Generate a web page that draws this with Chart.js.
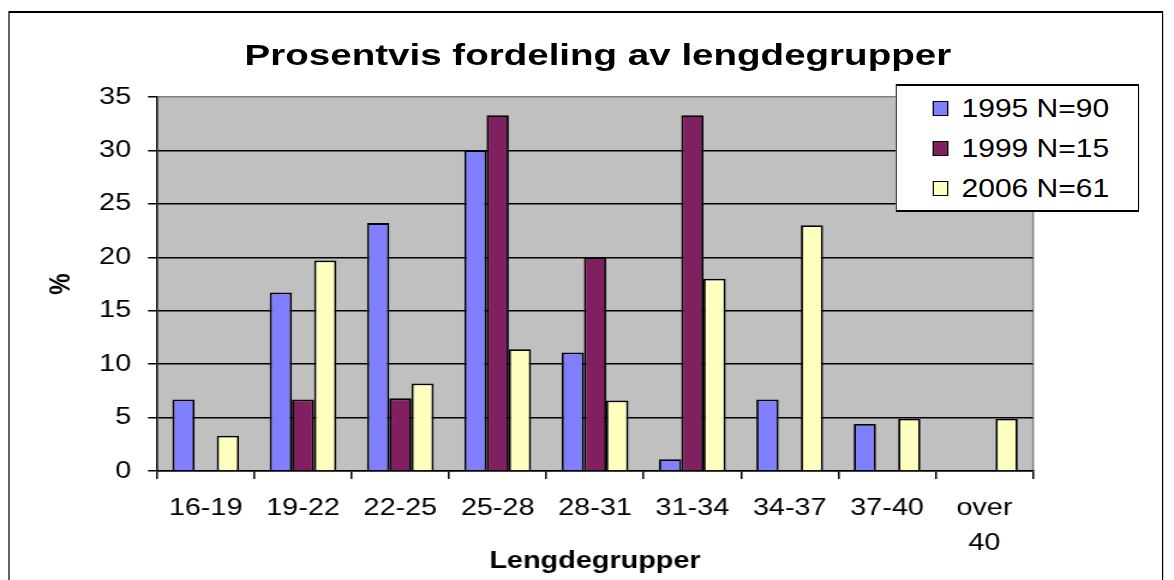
<!DOCTYPE html>
<html>
<head>
<meta charset="utf-8">
<script src="https://cdn.jsdelivr.net/npm/chart.js@4"></script>
<style>
body{margin:0;background:#fff;font-family:"Liberation Sans",Arial,sans-serif}
#wrap{position:relative;width:1174px;height:580px;overflow:hidden}
#stage{position:absolute;left:0;top:0;width:978px;height:580px;transform:scaleX(1.2004);transform-origin:0 0}
#frame{position:absolute;left:7px;top:11px;width:960px;height:620px;border:2px solid #000;border-left-width:1.7px;border-right-width:1.7px}
#c{position:absolute;left:0;top:0}
#title{position:absolute;left:0;top:38px;width:996px;text-align:center;font-weight:bold;font-size:30px;line-height:34px;color:#000}
#title span{display:inline-block;transform:scaleX(1.07)}
#legend{position:absolute;left:746px;top:84px;width:201px;height:124px;border:2px solid #000;border-left-width:1.7px;border-right-width:1.7px;background:#fff}
.item{position:absolute;left:0;height:30px;font-size:25px;line-height:30px;color:#000;white-space:nowrap}
.item i{position:absolute;left:30px;top:8px;width:11px;height:13px;border:1.5px solid #000;border-left-width:1.3px;border-right-width:1.3px}
.item span{position:absolute;left:54px;top:0}
</style>
</head>
<body>
<div id="wrap">
  <div id="stage">
    <div id="frame"></div>
    <canvas id="c" width="978" height="580" style="width:978px;height:580px"></canvas>
    <div id="title"><span>Prosentvis fordeling av lengdegrupper</span></div>
    <div id="legend"></div>
  </div>
</div>
<script>
// lengdegrupper og prosentandeler lest av figuren
var categories = ['16-19','19-22','22-25','25-28','28-31','31-34','34-37','37-40',['over','40']];
var labels = ['1995 N=90','1999 N=15','2006 N=61'];
var colors = ['#8080ff','#802060','#ffffc0'];
var v1995 = [6.7, 16.7, 23.2, 30.0, 11.1, 1.1, 6.7, 4.4, null];
var v1999 = [null, 6.7, 6.8, 33.3, 20.0, 33.3, null, null, null];
var v2006 = [3.3, 19.7, 8.2, 11.4, 6.6, 18.0, 23.0, 4.9, 4.9];
var yTicks = [0,5,10,15,20,25,30,35];

var font = '"Liberation Sans", Arial, sans-serif';

var plotBg = {
  id: 'plotBg',
  beforeDraw: function(chart){
    var ctx = chart.ctx, a = chart.chartArea;
    ctx.save();
    ctx.fillStyle = '#c0c0c0';
    ctx.fillRect(a.left, a.top, a.right - a.left, a.bottom - a.top);
    ctx.strokeStyle = '#808080';
    ctx.lineWidth = 1.5;
    ctx.beginPath();
    ctx.moveTo(a.right, a.top);
    ctx.lineTo(a.right, a.bottom);
    ctx.stroke();
    ctx.restore();
  }
};

function ds(i, data){
  return {
    label: labels[i],
    data: data,
    backgroundColor: colors[i],
    borderColor: '#000',
    borderWidth: 1.8,
    barPercentage: 1,
    categoryPercentage: 0.685
  };
}

var chart = new Chart(document.getElementById('c'), {
  type: 'bar',
  data: {
    labels: categories,
    datasets: [ds(0, v1995), ds(1, v1999), ds(2, v2006)]
  },
  options: {
    responsive: false,
    animation: false,
    layout: { padding: { left: 0, right: 117.4, top: 97, bottom: 0 } },
    plugins: {
      legend: { display: false },
      title: { display: false },
      tooltip: { enabled: false }
    },
    scales: {
      x: {
        afterFit: function(s){ s.height = 109; },
        grid: { offset: true, drawOnChartArea: false, color: '#000', lineWidth: 1.5, tickLength: 8 },
        border: { color: '#000', width: 1.5 },
        ticks: { color: '#000', font: { family: font, size: 24, lineHeight: 1.46 }, padding: 12, maxRotation: 0, autoSkip: false },
        title: { display: true, text: 'Lengdegrupper', color: '#000', font: { family: font, size: 24, weight: 'bold' }, padding: { top: 0, bottom: 4 } }
      },
      y: {
        min: 0, max: 35,
        afterFit: function(s){ s.width = 130.8; },
        afterBuildTicks: function(s){ s.ticks = yTicks.map(function(v){ return { value: v }; }); },
        grid: {
          color: function(c){ return c.tick && c.tick.value === 35 ? '#808080' : '#000'; },
          lineWidth: 1.5, tickLength: 7.5, tickColor: '#000'
        },
        border: { color: '#000', width: 1.5 },
        ticks: { color: '#000', font: { family: font, size: 24 }, padding: 14 },
        title: { display: true, text: '%', color: '#000', font: { family: font, size: 24, weight: 'bold' }, padding: { top: 37, bottom: 0 } }
      }
    }
  },
  plugins: [plotBg]
});

// legende bygd fra datasettene
var leg = document.getElementById('legend');
labels.forEach(function(l, i){
  var d = document.createElement('div');
  d.className = 'item';
  d.style.top = (7 + i * 40) + 'px';
  d.innerHTML = '<i style="background:' + colors[i] + '"></i><span>' + l + '</span>';
  leg.appendChild(d);
});
</script>
</body>
</html>
